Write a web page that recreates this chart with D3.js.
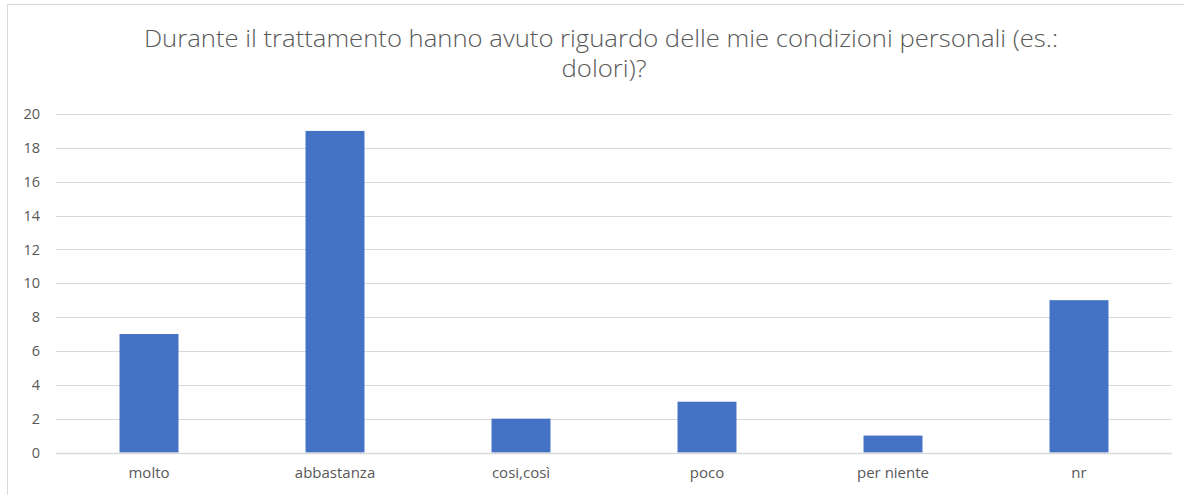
<!DOCTYPE html>
<html>
<head>
<meta charset="utf-8">
<script src="https://cdn.jsdelivr.net/npm/d3@7"></script>
<style>
  html, body { margin: 0; padding: 0; background: #fff; }
  svg { display: block; }
  text { font-family: "Open Sans", "Noto Sans", sans-serif; fill: #595959; }
</style>
</head>
<body>
<svg id="chart" width="1184" height="495"></svg>
<script>
// Risposte al questionario
const categories = ["molto", "abbastanza", "cosi,così", "poco", "per niente", "nr"];
const counts = [7, 19, 2, 3, 1, 9];
const yTicks = [0, 2, 4, 6, 8, 10, 12, 14, 16, 18, 20];
const titleLines = [
  "Durante il trattamento hanno avuto riguardo delle mie condizioni personali (es.:",
  "dolori)?"
];

const svg = d3.select("#chart");
const W = 1184, H = 495;

// Cornice del grafico
svg.append("rect")
  .attr("x", 7.5).attr("y", 4.5)
  .attr("width", W + 10).attr("height", H + 10)
  .attr("fill", "#fff")
  .attr("stroke", "#d9d9d9").attr("stroke-width", 1);

const plot = { left: 56, right: 1172, top: 114, bottom: 452.5 };

const x = d3.scaleBand()
  .domain(categories)
  .range([plot.left, plot.right])
  .paddingInner(0.683)
  .paddingOuter(0.3415);

const y = d3.scaleLinear()
  .domain([0, 20])
  .range([plot.bottom, plot.top]);

// Griglia orizzontale
svg.append("g")
  .selectAll("line")
  .data(yTicks)
  .join("line")
  .attr("x1", plot.left).attr("x2", plot.right)
  .attr("y1", d => Math.round(y(d)) + 0.5)
  .attr("y2", d => Math.round(y(d)) + 0.5)
  .attr("stroke", "#d9d9d9").attr("stroke-width", 1);

// Etichette asse Y
const yAxis = d3.axisLeft(y).tickValues(yTicks).tickSize(0).tickPadding(0);
const gy = svg.append("g").attr("transform", `translate(${plot.left - 16},0)`).call(yAxis);
gy.select(".domain").remove();
gy.selectAll("text")
  .attr("font-size", 14.5)
  .attr("fill", "#595959")
  .style("font-family", '"Open Sans", sans-serif');

// Barre
svg.append("g")
  .selectAll("rect")
  .data(categories.map((c, i) => ({ c, v: counts[i] })))
  .join("rect")
  .attr("x", d => x(d.c))
  .attr("width", x.bandwidth())
  .attr("y", d => y(d.v))
  .attr("height", d => y(0) - y(d.v))
  .attr("fill", "#4472c4");

// Linea dello zero
svg.append("line")
  .attr("x1", plot.left).attr("x2", plot.right)
  .attr("y1", Math.round(y(0)) + 0.5).attr("y2", Math.round(y(0)) + 0.5)
  .attr("stroke", "#d9d9d9").attr("stroke-width", 1.5);

// Etichette asse X
const xAxis = d3.axisBottom(x).tickSize(0).tickPadding(0);
const gx = svg.append("g").attr("transform", `translate(0,${plot.bottom + 15})`).call(xAxis);
gx.select(".domain").remove();
gx.selectAll("text")
  .attr("font-size", 15)
  .attr("fill", "#595959")
  .style("font-family", '"Open Sans", sans-serif');

// Titolo
svg.append("text")
  .attr("x", 601).attr("y", 47)
  .attr("text-anchor", "middle")
  .attr("font-size", 24)
  .attr("font-weight", 300)
  .attr("textLength", 914)
  .attr("lengthAdjust", "spacingAndGlyphs")
  .text(titleLines[0]);
svg.append("text")
  .attr("x", 604).attr("y", 77)
  .attr("text-anchor", "middle")
  .attr("font-size", 24)
  .attr("font-weight", 300)
  .attr("textLength", 85)
  .attr("lengthAdjust", "spacingAndGlyphs")
  .text(titleLines[1]);
</script>
</body>
</html>
